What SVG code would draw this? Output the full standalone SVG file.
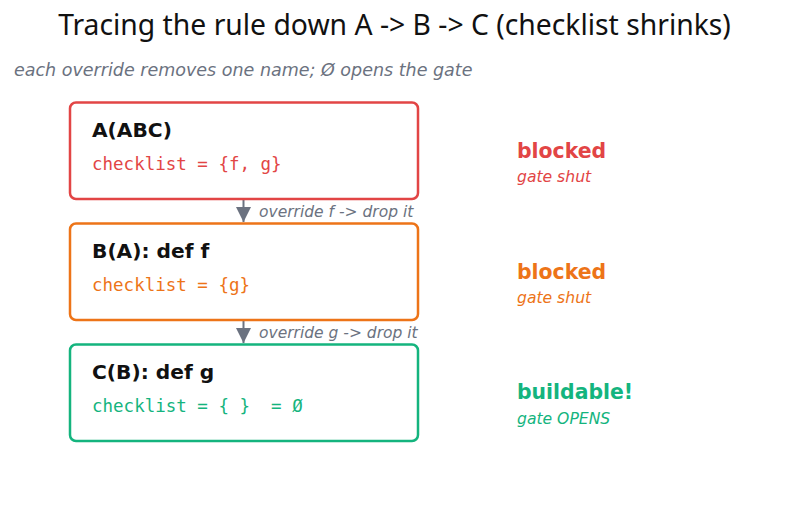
<svg xmlns="http://www.w3.org/2000/svg" width="789" height="512" viewBox="0 0 789 512">
<defs>
<marker id="arr" viewBox="0 0 10 10" refX="10" refY="5" markerWidth="16" markerHeight="15" markerUnits="userSpaceOnUse" orient="auto">
<path d="M0,0 L10,5 L0,10 z" fill="#6b7280"/>
</marker>
<style>
.title{font-family:"Noto Sans","DejaVu Sans",sans-serif;font-size:28.3px;fill:#111111;text-anchor:middle}
.sub{font-family:"DejaVu Sans",sans-serif;font-style:italic;font-size:17.5px;fill:#6b7280}
.box{fill:#ffffff;stroke-width:2.5}
.lbl{font-family:"DejaVu Sans",sans-serif;font-weight:bold;font-size:20.2px;fill:#111111}
.code{font-family:"DejaVu Sans Mono",monospace;font-size:17.5px;white-space:pre}
.edge{stroke:#6b7280;stroke-width:2;fill:none}
.elbl{font-family:"DejaVu Sans",sans-serif;font-style:italic;font-size:15.5px;fill:#6b7280}
.st{font-family:"DejaVu Sans",sans-serif;font-weight:bold;font-size:20.4px}
.gs{font-family:"DejaVu Sans",sans-serif;font-style:italic;font-size:15.6px}
</style>
</defs>
<text class="title" x="394.5" y="35">Tracing the rule down A -&gt; B -&gt; C (checklist shrinks)</text>
<text class="sub" x="14" y="76">each override removes one name; Ø opens the gate</text>
<g id="connectors">
<line class="edge" x1="243.5" y1="199" x2="243.5" y2="222" marker-end="url(#arr)"/>
<text class="elbl" x="259" y="217">override f -&gt; drop it</text>
<line class="edge" x1="243.5" y1="320" x2="243.5" y2="343" marker-end="url(#arr)"/>
<text class="elbl" x="259" y="338">override g -&gt; drop it</text>
</g>
<g id="nodeA">
<rect class="box" x="70" y="102.5" width="348" height="96.5" rx="6" style="stroke:#e24545"/>
<text class="lbl" x="92" y="137">A(ABC)</text>
<text class="code" x="92" y="170" style="fill:#e24545">checklist = {f, g}</text>
</g>
<g id="nodeB">
<rect class="box" x="70" y="223.5" width="348" height="96.5" rx="6" style="stroke:#ed7418"/>
<text class="lbl" x="92" y="258">B(A): def f</text>
<text class="code" x="92" y="291" style="fill:#ed7418">checklist = {g}</text>
</g>
<g id="nodeC">
<rect class="box" x="70" y="344.5" width="348" height="96.5" rx="6" style="stroke:#14b47e"/>
<text class="lbl" x="92" y="379">C(B): def g</text>
<text class="code" x="92" y="412" style="fill:#14b47e" xml:space="preserve">checklist = { }  = Ø</text>
</g>
<g id="statusA">
<text class="st" x="517" y="158" style="fill:#e24545">blocked</text>
<text class="gs" x="517" y="182" style="fill:#e24545">gate shut</text>
</g>
<g id="statusB">
<text class="st" x="517" y="279" style="fill:#ed7418">blocked</text>
<text class="gs" x="517" y="303" style="fill:#ed7418">gate shut</text>
</g>
<g id="statusC">
<text class="st" x="517" y="399" style="fill:#14b47e">buildable!</text>
<text class="gs" x="517" y="424" style="fill:#14b47e">gate OPENS</text>
</g>
</svg>
